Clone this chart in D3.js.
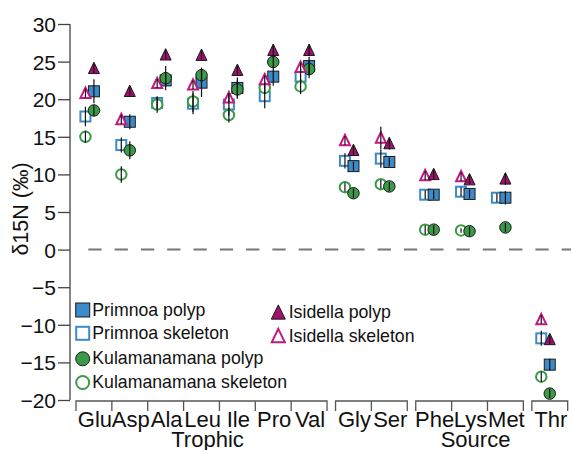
<!DOCTYPE html>
<html><head><meta charset="utf-8">
<script src="https://cdn.jsdelivr.net/npm/d3@7"></script>
<style>body{margin:0;background:#fff}svg{display:block}text{font-family:"Liberation Sans",Arial,Helvetica,sans-serif;fill:#111}</style>
</head><body><svg id="c" width="571" height="450"></svg>
<script>
const categories = ["Glu","Asp","Ala","Leu","Ile","Pro","Val","Gly","Ser","Phe","Lys","Met","Thr"];
const groupOf = [0,0,0,0,0,0,0,1,1,2,2,2,3];
const groupLabels = ["Trophic","","Source",""];
const yTicks = [30,25,20,15,10,5,0,-5,-10,-15,-20];

const primnoaPolyp      = [21.05,17.0,22.5,22.2,21.5,23.0,24.4,11.1,11.65,7.3,7.4,6.9,-15.3];
const primnoaSkeleton   = [17.7,13.9,19.5,19.4,19.3,20.4,23.0,11.8,12.1,7.3,7.7,6.9,-11.8];
const kulaPolyp         = [18.5,13.2,22.8,23.2,21.3,24.95,24.0,7.5,8.4,2.65,2.45,2.95,-19.15];
const kulaSkeleton      = [15.0,10.0,19.3,19.7,17.9,21.5,21.7,8.3,8.7,2.65,2.55,null,-16.9];
const isidellaPolyp     = [24.1,21.05,25.9,25.85,23.85,26.5,26.5,13.2,14.1,10.0,9.3,9.4,-11.95];
const isidellaSkeleton  = [20.8,17.3,22.1,21.9,20.2,22.6,24.25,14.5,14.85,9.85,9.7,null,-9.3];

const primnoaPolypErr     = [1.6,1.0,0.8,1.9,1.4,1.2,1.2,0.6,0.6,0.6,0.6,0.9,0.8];
const primnoaSkeletonErr  = [1.3,1.0,0.8,1.4,1.5,1.6,1.0,1.0,1.2,0.6,0.6,0.6,1.0];
const kulaPolypErr        = [0.7,1.2,1.6,1.0,1.2,0.8,1.2,0.6,0.6,0.6,0.6,0.6,0.6];
const kulaSkeletonErr     = [0.8,1.1,1.1,1.4,1.0,0.8,1.0,0.6,0.6,0.6,0.3,null,0.7];
const isidellaPolypErr    = [0.6,0.6,0.6,0.6,0.6,0.8,0.8,0.6,0.8,0.6,0.6,0.8,0.6];
const isidellaSkeletonErr = [0.6,0.6,0.6,0.6,0.6,0.6,0.6,0.6,1.5,0.6,0.6,null,0.6];

const BLUE="#3d8ac8", GREEN="#3a9a48", MAG="#a0106c", MAGO="#c4197f";
const series = [
  {name:"Primnoa skeleton", v:primnoaSkeleton, e:primnoaSkeletonErr, shape:"square", open:true, color:BLUE, skel:true},
  {name:"Primnoa polyp", v:primnoaPolyp, e:primnoaPolypErr, shape:"square", open:false, color:BLUE, skel:false},
  {name:"Kulamanamana skeleton", v:kulaSkeleton, e:kulaSkeletonErr, shape:"circle", open:true, color:GREEN, skel:true},
  {name:"Kulamanamana polyp", v:kulaPolyp, e:kulaPolypErr, shape:"circle", open:false, color:GREEN, skel:false},
  {name:"Isidella skeleton", v:isidellaSkeleton, e:isidellaSkeletonErr, shape:"triangle", open:true, color:MAGO, skel:true},
  {name:"Isidella polyp", v:isidellaPolyp, e:isidellaPolypErr, shape:"triangle", open:false, color:MAG, skel:false}
];

const svg = d3.select("#c");
const G = 0.237;
const nGroups = 4;
const x = d3.scaleLinear().domain([0, categories.length + (nGroups-1)*G]).range([76, 567.7]);
const y = d3.scaleLinear().domain([-20,30]).range([400,24]);
const catStart = i => x(i + groupOf[i]*G);
const catEnd = i => x(i + 1 + groupOf[i]*G);
const catMid = i => (catStart(i)+catEnd(i))/2;

// zero dashed line
svg.append("line").attr("x1",88.3).attr("x2",571).attr("y1",y(0)).attr("y2",y(0))
  .attr("stroke","#777").attr("stroke-width",2).attr("stroke-dasharray","13.3,13");

// y axis
const yAxis = d3.axisLeft(y).tickValues(yTicks).tickSize(12).tickPadding(2).tickFormat(d3.format("d"));
const ya = svg.append("g").attr("transform","translate(70,0)").call(yAxis);
ya.select(".domain").attr("d",`M0,${y(30)}V${y(-20)}`).attr("stroke","#444").attr("stroke-width",1.3);
ya.selectAll(".tick line").attr("stroke","#444").attr("stroke-width",1.3);
ya.selectAll(".tick text").style("font-size","21px").attr("fill","#111")
  .style("font-family",'"Liberation Sans",Arial,sans-serif').attr("dy","0.36em");

svg.append("text").attr("transform",`translate(28,209) rotate(-90)`).attr("text-anchor","middle")
  .style("font-size","21.5px").text("δ15N (‰)");

// bracket x axis
const bracketY = 401, tickLen = 10;
for (let g=0; g<nGroups; g++) {
  const idx = categories.map((c,i)=>i).filter(i=>groupOf[i]===g);
  const s = catStart(idx[0]), e = catEnd(idx[idx.length-1]);
  let path = `M${s},${bracketY+tickLen}V${bracketY}H${e}V${bracketY+tickLen}`;
  idx.slice(1).forEach(i=>{ path += `M${catStart(i)},${bracketY}V${bracketY+tickLen}`; });
  svg.append("path").attr("d",path).attr("fill","none").attr("stroke","#555").attr("stroke-width",1.3);
  if (groupLabels[g]) {
    svg.append("text").attr("x",(s+e)/2+6).attr("y",446.5).attr("text-anchor","middle")
      .style("font-size","22px").text(groupLabels[g]);
  }
}
svg.selectAll("text.cat").data(categories).join("text").attr("class","cat")
  .attr("x",(d,i)=>catMid(i)+1).attr("y",427.3).attr("text-anchor","middle")
  .style("font-size","22px").text(d=>d);

// markers
function drawMarker(sel, shape, open, color, size) {
  const sw = open ? 2 : 1;
  const fill = open ? "#fff" : color;
  const stroke = open ? color : "#1a1a1a";
  if (shape==="square") {
    const h = size/2 - (open?1:0.5);
    sel.append("rect").attr("x",-h).attr("y",-h).attr("width",2*h).attr("height",2*h)
      .attr("fill",fill).attr("stroke",stroke).attr("stroke-width",sw);
  } else if (shape==="circle") {
    sel.append("circle").attr("r",size/2 - (open?1:0.5)).attr("fill",fill).attr("stroke",stroke).attr("stroke-width",sw);
  } else {
    const w = size/2 - (open?1:0.5), hh = size*0.95 - (open?2:1);
    sel.append("path").attr("d",`M0,${-hh/2-1}L${w},${hh/2}L${-w},${hh/2}Z`)
      .attr("fill",fill).attr("stroke",stroke).attr("stroke-width",sw).attr("stroke-linejoin","miter");
  }
}

const pts = [];
series.forEach(s=>{
  s.v.forEach((v,i)=>{
    if (v===null) return;
    pts.push({s, i, v, e:s.e[i], cx: catMid(i) - (s.skel?8.5:0)});
  });
});
pts.forEach(p=>{
  const g = svg.append("g").attr("transform",`translate(${p.cx},${y(p.v)})`);
  drawMarker(g, p.s.shape, p.s.open, p.s.color, p.s.shape==="circle"?12.5:12);
});
pts.forEach(p=>{
  svg.append("line").attr("x1",p.cx).attr("x2",p.cx).attr("y1",y(p.v+p.e)).attr("y2",y(p.v-p.e))
    .attr("stroke","#111").attr("stroke-width",1.2);
});

// legend
const legend = [
  {s:series[1], x:82.7, y:310, tx:92.3, ty:316},
  {s:series[0], x:82.7, y:333.3, tx:92.3, ty:339.3},
  {s:series[3], x:82.7, y:358.8, tx:92.3, ty:364.3},
  {s:series[2], x:82.7, y:382.5, tx:92.3, ty:387.7},
  {s:series[5], x:278.3, y:312.5, tx:288.7, ty:318.3},
  {s:series[4], x:278.3, y:336, tx:288.7, ty:342.3}
];
legend.forEach(l=>{
  const g = svg.append("g").attr("transform",`translate(${l.x},${l.y})`);
  drawMarker(g, l.s.shape, l.s.open, l.s.color, 15);
  svg.append("text").attr("x",l.tx).attr("y",l.ty).style("font-size","17.7px").text(l.s.name);
});
</script></body></html>
